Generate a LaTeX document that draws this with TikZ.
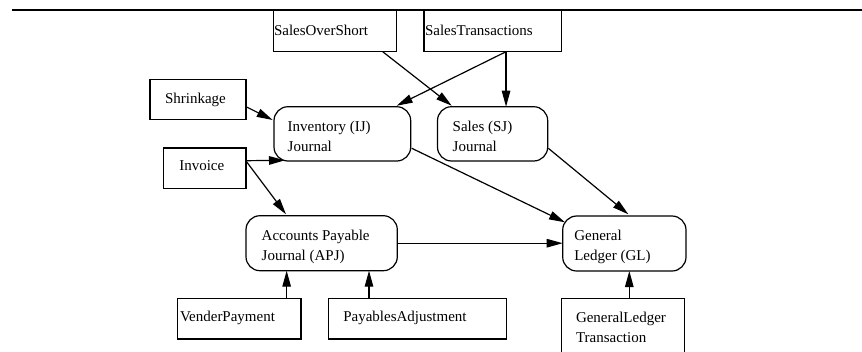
\documentclass[tikz,border=0pt]{standalone}
\usepackage{fontspec}
\setmainfont{Liberation Serif}
\usetikzlibrary{calc,arrows.meta}

% left-aligned cell text of fixed width; the baseline is that of the first line
\newcommand\celltext[2]{\makebox[#1][l]{\begin{tabular}[t]{@{}l@{}}#2\end{tabular}}}

\tikzset{
  shapebase/.style={draw, line width=1.2pt, outer sep=0pt, inner ysep=0pt,
    anchor=north west, font=\fontsize{15}{19.7}\selectfont},
  plainbox/.style={shapebase, rectangle},
  journal/.style={shapebase, rectangle, rounded corners=14pt},
  link/.style={line width=1.2pt, -{Triangle[length=16pt,width=8.5pt]}},
  rule/.style={line width=1.3pt},
}

\begin{document}
\begin{tikzpicture}[x=1pt,y=-1pt]
\useasboundingbox (0,0) rectangle (862,351);
\clip (0,0) rectangle (862,351);

% header rule
\draw[rule] (12,10) -- (862,10);

% source boxes
\node[plainbox, inner xsep=0.7pt, text height=25pt, text depth=16.7pt] (sos) at (273.3,10)
  {\celltext{122pt}{SalesOverShort}};
\node[plainbox, inner xsep=1pt, text height=25pt, text depth=16.7pt] (st) at (424,10)
  {\celltext{135.7pt}{SalesTransactions}};
\node[plainbox, inner xsep=15pt, text height=23.7pt, text depth=16.3pt] (shr) at (150,79.3)
  {\celltext{66pt}{Shrinkage}};
\node[plainbox, inner xsep=16pt, text height=22.7pt, text depth=17.6pt] (inv) at (163.3,148)
  {\celltext{50.7pt}{Invoice}};
\node[plainbox, inner xsep=2.3pt, text height=23.4pt, text depth=17.3pt] (vp) at (177.7,298.3)
  {\celltext{118.7pt}{VenderPayment}};
\node[plainbox, inner xsep=15pt, text height=23.4pt, text depth=17.3pt] (pa) at (328.3,298.3)
  {\celltext{148.2pt}{PayablesAdjustment}};
\node[plainbox, inner xsep=14.3pt, text height=24.4pt, text depth=30.6pt] (glt) at (561.7,298.3)
  {\celltext{94pt}{GeneralLedger\\Transaction}};

% journals and ledger
\node[journal, inner xsep=13.7pt, text height=25pt, text depth=29.3pt] (ij) at (274,106.7)
  {\celltext{109.3pt}{Inventory (IJ)\\Journal}};
\node[journal, inner xsep=15.2pt, text height=25pt, text depth=29.3pt] (sj) at (437.5,106.7)
  {\celltext{79.8pt}{Sales (SJ)\\Journal}};
\node[journal, inner xsep=15.7pt, text height=25pt, text depth=30pt] (apj) at (246,215.7)
  {\celltext{119.9pt}{Accounts Payable\\Journal (APJ)}};
\node[journal, inner xsep=11.6pt, text height=24.5pt, text depth=30.5pt] (gl) at (562.7,216)
  {\celltext{100.1pt}{General\\Ledger (GL)}};

% ports on the box borders where vertical postings leave
\coordinate (stout) at ($(st.south)+(13.2,0)$);
\coordinate (vpout) at ($(vp.north)+(47.3,0)$);
\coordinate (paout) at ($(pa.north)+(-48.4,0)$);
\coordinate (gltout) at ($(glt.north)+(6.3,0)$);

% postings
\draw[link] ($(sos.south)+(47.7,0)$) -- ($(sj.north)+(-40.9,-1)$);
\draw[link] (stout) -- ($(ij.north east)+(-14,-1)$);
\draw[link] (stout) -- (stout |- sj.north);
\draw[link] ($(shr.north east)+(0,27.4)$) -- ($(ij.north west)+(-1.3,13.3)$);
\draw[link] ($(inv.north east)+(0,12.7)$) -- ($(ij.south west)+(11,-0.7)$);
\draw[link] ($(inv.north east)+(0,13)$) -- ($(apj.north west)+(40,-1.4)$);
\draw[link] ($(ij.east)+(1,14.4)$) -- ($(gl.north west)+(2.3,6.3)$);
\draw[link] ($(sj.east)+(0.6,14.4)$) -- ($(gl.north)+(4,-1.7)$);
\draw[link] (apj.east) -- (apj.east -| gl.west);
\draw[link] (vpout) -- (vpout |- apj.south);
\draw[link] (paout) -- (paout |- apj.south);
\draw[link] (gltout) -- (gltout |- gl.south);
\end{tikzpicture}
\end{document}
